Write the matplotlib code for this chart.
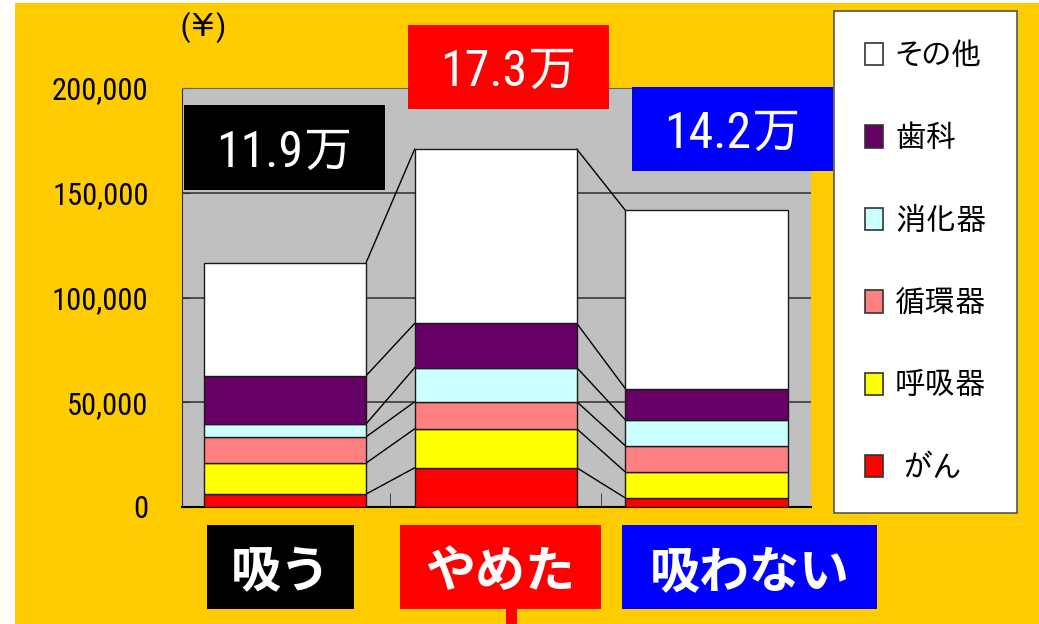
import matplotlib
matplotlib.use("Agg")
import matplotlib.pyplot as plt
import numpy as np
from matplotlib.patches import Rectangle, Patch

plt.rcParams['font.family'] = ['IPAPGothic', 'Noto Sans CJK JP', 'DejaVu Sans']
num_font = ['Roboto Condensed', 'IPAPGothic', 'Noto Sans CJK JP', 'DejaVu Sans']

# data (yen per person)
groups = ["吸う", "やめた", "吸わない"]
totals_text = ["11.9万", "17.3万", "14.2万"]
categories = ["がん", "呼吸器", "循環器", "消化器", "歯科", "その他"]
gan = [6200, 18700, 4300]
kokyuki = [14800, 18600, 12400]
junkanki = [12500, 12900, 12500]
shokaki = [6200, 16300, 12400]
shika = [23000, 21100, 14900]
sonota = [54000, 83200, 85100]
yticks = [0, 50000, 100000, 150000, 200000]

series = [gan, kokyuki, junkanki, shokaki, shika, sonota]
colors = ["#FF0000", "#FFFF00", "#FF8080", "#CCFFFF", "#660066", "#FFFFFF"]
group_colors = ["#000000", "#FF0000", "#0000FF"]

W, H = 1039, 624
fig = plt.figure(figsize=(W / 100, H / 100), dpi=100, facecolor="white")
# orange background, thin white strip left and top
fig.add_artist(Rectangle((15 / W, 0), 1 - 15 / W, 1 - 3 / H, transform=fig.transFigure,
                         facecolor="#FFCC00", edgecolor="none", zorder=-10))

ax = fig.add_axes([182 / W, 1 - 507 / H, (811 - 182) / W, (507 - 88) / H])
ax.set_facecolor("#C0C0C0")

x = np.arange(len(groups))
bw = 0.77
bottom = np.zeros(len(groups))
cums = []
for vals, c in zip(series, colors):
    ax.bar(x, vals, bw, bottom=bottom, color=c, edgecolor="#1a1a1a", linewidth=1.0, zorder=3)
    bottom = bottom + np.array(vals)
    cums.append(bottom.copy())

# series lines between the bars
for cum in cums:
    for i in range(len(groups) - 1):
        ax.plot([x[i] + bw / 2, x[i + 1] - bw / 2], [cum[i], cum[i + 1]],
                color="black", lw=1.0, zorder=2)

ax.set_xlim(-0.489, 2.496)
ax.set_ylim(0, 200000)
ax.set_yticks(yticks)
ax.set_yticklabels([f"{v:,}" for v in yticks], family=num_font, fontsize=22)
ax.yaxis.grid(True, color="#3a3a3a", lw=1.2, zorder=1)
ax.set_axisbelow(True)
ax.tick_params(axis="y", direction="in", length=6, pad=24, colors="#333", labelcolor="black")
ax.set_xticks([])
ax.set_xticks([0.5, 1.5], minor=True)
ax.tick_params(axis="x", which="minor", direction="in", length=10, color="#333")
ax.spines["top"].set_color("#666")
ax.spines["left"].set_color("#333")
ax.spines["right"].set_visible(False)
ax.spines["bottom"].set_color("black")
ax.spines["bottom"].set_linewidth(1.5)

fig.text(180 / W, 1 - 28 / H, "(¥)", fontsize=24, va="center", ha="left")


def box(x0, y0, x1, y1, fc, text, size, **kw):
    fig.add_artist(Rectangle((x0 / W, 1 - y1 / H), (x1 - x0) / W, (y1 - y0) / H,
                             transform=fig.transFigure, facecolor=fc,
                             edgecolor="none", zorder=5))
    fig.text((x0 + x1) / 2 / W, 1 - (y0 + y1) / 2 / H, text, color="white",
             fontsize=size, ha="center", va="center_baseline", zorder=6, **kw)


tot_boxes = [(184, 105, 385, 190), (408, 25, 609, 109), (632, 87, 833, 171)]
for (x0, y0, x1, y1), t, c in zip(tot_boxes, totals_text, group_colors):
    box(x0, y0, x1, y1, c, t, 36, family=num_font)

grp_boxes = [(207, 525, 354, 609), (400, 525, 601, 609), (622, 525, 877, 609)]
for (x0, y0, x1, y1), t, c in zip(grp_boxes, groups, group_colors):
    box(x0, y0, x1, y1, c, t, 36, family=['Noto Sans CJK JP', 'DejaVu Sans'],
        fontweight="bold")

fig.add_artist(Rectangle((506 / W, 0), 11 / W, 15 / H, transform=fig.transFigure,
                         facecolor="#FF0000", edgecolor="none", zorder=5))

# legend, top entry = その他
handles = [Patch(facecolor=c, edgecolor="#333", lw=1.2) for c in colors][::-1]
labels = categories[::-1]
labels = [(" " + l if l == "がん" else l) for l in labels]
leg = fig.legend(handles, labels, loc="upper left", bbox_to_anchor=(834 / W, 1 - 11 / H),
                 borderaxespad=0, fontsize=22, frameon=True, fancybox=False,
                 facecolor="white", framealpha=1.0,
                 handlelength=0.6, handleheight=0.75, handletextpad=0.4,
                 borderpad=1.0, labelspacing=1.75)
leg.get_frame().set_edgecolor("#555")
leg.get_frame().set_linewidth(1.2)
leg.set_zorder(7)

fig.savefig("out.png", dpi=100, facecolor=fig.get_facecolor())
